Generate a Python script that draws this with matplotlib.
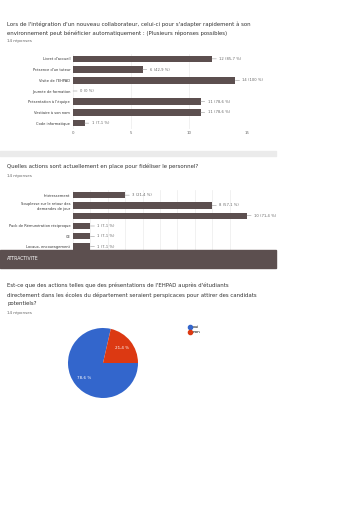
import matplotlib.pyplot as plt
from matplotlib.patches import Rectangle
from matplotlib.lines import Line2D

W, H = 362, 512

# question 1
cats1 = ["Livret d'accueil", "Présence d'un tuteur", "Visite de l'EHPAD",
         "Journée de formation", "Présentation à l'équipe",
         "Vestiaire à son nom", "Code informatique"]
vals1 = [12, 6, 14, 0, 11, 11, 1]
labs1 = ["12 (85,7 %)", "6 (42,9 %)", "14 (100 %)", "0 (0 %)",
         "11 (78,6 %)", "11 (78,6 %)", "1 (7,1 %)"]
ticks1 = [0, 5, 10, 15]

# question 2
cats2 = ["Intéressement", "Souplesse sur le retour des\ndemandes de jour", "",
         "Pack de Rémunération réciproque", "CE", "Locaux, encouragement"]
vals2 = [3, 8, 10, 1, 1, 1]
labs2 = ["3 (21,4 %)", "8 (57,1 %)", "10 (71,4 %)", "1 (7,1 %)",
         "1 (7,1 %)", "1 (7,1 %)"]

# question 3
cats3 = ["oui", "non"]
vals3 = [11, 3]

BAR = '#5c4f4f'
GRID = '#ececec'
TXT = '#333333'
SUB = '#666666'


def box(x0, y0, x1, y1):
    # pixel box (top-left origin) -> figure fraction
    return [x0 / W, 1 - y1 / H, (x1 - x0) / W, (y1 - y0) / H]


def ftext(x, y, s, **kw):
    fig.text(x / W, 1 - y / H, s, va='center', ha='left', **kw)


def hbars(ax, cats, vals, labs, xmax, step, nslots):
    y = list(range(len(cats)))
    ax.barh(y, vals, height=0.62, color=BAR, zorder=2)
    for yi, v, l in zip(y, vals, labs):
        ax.annotate(l, xy=(v, yi), xytext=(5, 0), textcoords='offset points',
                    va='center', ha='left', fontsize=2.7, color=SUB,
                    annotation_clip=False,
                    arrowprops=dict(arrowstyle='-', color='#999999', lw=0.4,
                                    shrinkA=0, shrinkB=0))
    ax.set_xlim(0, xmax)
    ax.set_ylim(nslots - 0.5, -0.5)
    ax.set_yticks(y)
    ax.set_yticklabels(cats, fontsize=2.6, color=TXT)
    ax.set_xticks(range(0, xmax + 1, step))
    ax.grid(axis='x', color=GRID, lw=0.5, zorder=0)
    for s in ax.spines.values():
        s.set_visible(False)
    ax.tick_params(length=0, pad=2)


fig = plt.figure(figsize=(W / 100, H / 100), dpi=100)
fig.patch.set_facecolor('white')

# section 1
ftext(7, 24, "Lors de l'intégration d'un nouveau collaborateur, celui-ci pour s'adapter rapidement à son",
      fontsize=3.9, color=TXT)
ftext(7, 33, "environnement peut bénéficier automatiquement : (Plusieurs réponses possibles)",
      fontsize=3.9, color=TXT)
ftext(7, 41, "14 réponses", fontsize=3.0, color=SUB)

ax1 = fig.add_axes(box(73, 53.5, 247, 128.5))
hbars(ax1, cats1, vals1, labs1, 15, 5, len(cats1))
ax1.set_xticklabels([str(t) for t in ticks1], fontsize=2.8, color=SUB)

fig.add_artist(Rectangle((0, 1 - 156 / H), 276 / W, 5 / H,
                         transform=fig.transFigure, color='#ebebeb', zorder=5))

# section 2
ftext(7, 166, "Quelles actions sont actuellement en place pour fidéliser le personnel?",
      fontsize=3.9, color=TXT)
ftext(7, 176, "14 réponses", fontsize=3.0, color=SUB)

ax2 = fig.add_axes(box(73, 190, 247, 262))
hbars(ax2, cats2, vals2, labs2, 10, 1, 7)
ax2.set_xticklabels([])

# header band
fig.add_artist(Rectangle((0, 1 - 268 / H), 276 / W, 18 / H,
                         transform=fig.transFigure, color=BAR, zorder=10))
t = fig.text(7 / W, 1 - 259 / H, "ATTRACTIVITE", fontsize=3.3, color='white',
             va='center', ha='left')
t.set_zorder(11)

# section 3
ftext(7, 285, "Est-ce que des actions telles que des présentations de l'EHPAD auprès d'étudiants",
      fontsize=3.9, color=TXT)
ftext(7, 295, "directement dans les écoles du département seraient perspicaces pour attirer des candidats",
      fontsize=3.9, color=TXT)
ftext(7, 304, "potentiels?", fontsize=3.9, color=TXT)
ftext(7, 313, "14 réponses", fontsize=3.0, color=SUB)

ax3 = fig.add_axes(box(68, 328, 138, 398))
colors3 = ['#3366cc', '#dc3912']
wedges, _, autot = ax3.pie(vals3, colors=colors3, startangle=360 * vals3[1] / sum(vals3),
                           radius=1, autopct=lambda p: f"{p:.1f}".replace('.', ',') + " %",
                           pctdistance=0.7, textprops=dict(color='white', fontsize=3.0))
ax3.set_xlim(-1, 1)
ax3.set_ylim(-1, 1)
ax3.set_aspect('equal')

handles = [Line2D([], [], marker='o', ls='', color=c, markersize=3) for c in colors3]
fig.legend(handles, cats3, loc='upper left', bbox_to_anchor=(188 / W, 1 - 325 / H),
           frameon=False, fontsize=3.0, handletextpad=0.2, labelspacing=0.35,
           handlelength=1, borderaxespad=0, borderpad=0)

fig.savefig('out.png', dpi=100)
